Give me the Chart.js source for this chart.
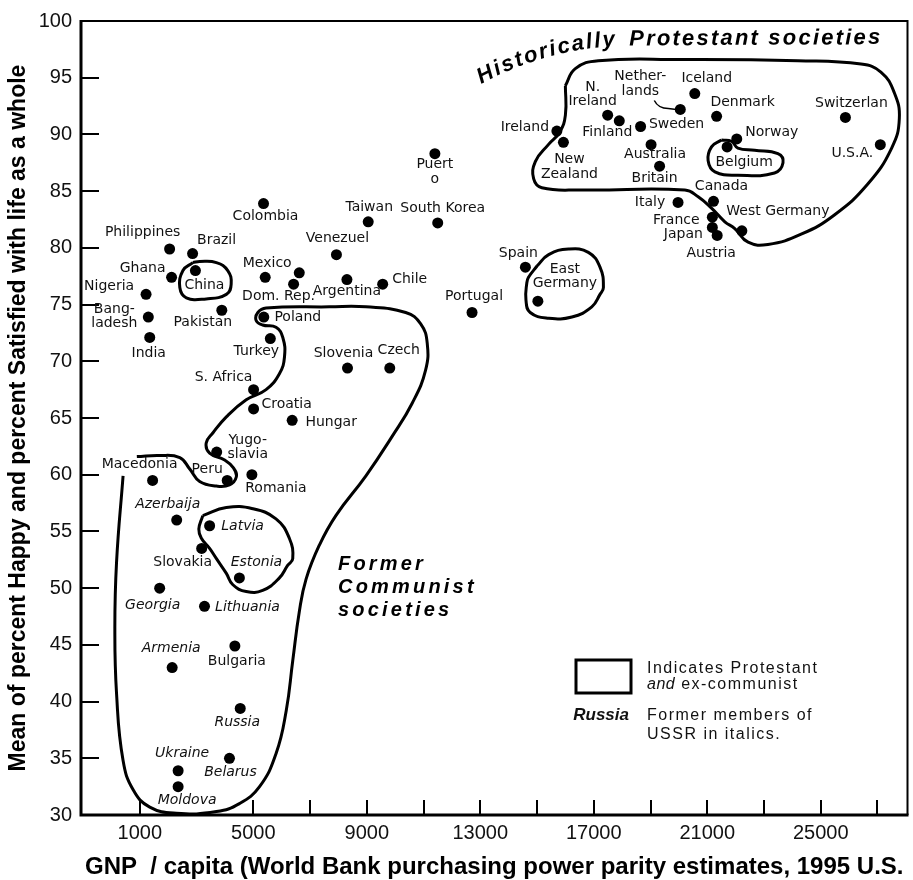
<!DOCTYPE html>
<html>
<head>
<meta charset="utf-8">
<script src="https://cdn.jsdelivr.net/npm/chart.js@4.4.1/dist/chart.umd.min.js"></script>
<style>
  html, body { margin: 0; padding: 0; background: #fff; }
</style>
</head>
<body>
<canvas id="happiness_canvas" width="913" height="880"></canvas>
<script>
// countries, GNP per capita (PPP, 1995 US$) and happy/satisfied mean
const countries = [
  'Philippines', 'Brazil', 'China', 'Ghana', 'Nigeria', 'Colombia', 'Puerto Rico', 'Taiwan',
  'South Korea', 'Venezuela', 'Mexico', 'Dom. Rep.', '', 'Argentina', 'Chile',
  'Iceland', 'Netherlands', 'Denmark', 'Switzerland', 'U.S.A.', 'N. Ireland', 'Finland',
  'Sweden', 'Ireland', 'New Zealand', 'Australia', 'Britain', 'Norway', 'Belgium',
  'Canada', 'Italy', 'France', 'Japan', 'Austria', 'West Germany', 'Spain', 'East Germany',
  'Portugal', 'Bangladesh', 'India', 'Pakistan', 'Poland', 'Turkey', 'Slovenia', 'Czech',
  'S. Africa', 'Croatia', 'Hungary', 'Yugoslavia', 'Peru', 'Romania', 'Macedonia',
  'Azerbaijan', 'Latvia', 'Slovakia', 'Estonia', 'Georgia', 'Lithuania', 'Bulgaria',
  'Armenia', 'Russia', 'Belarus', 'Ukraine', 'Moldova'
];
const gnp = [
  2050, 2860, 2960, 2120, 1220, 5360, 11400, 9050,
  11500, 7930, 5420, 6420, 6620, 8300, 9560,
  20560, 20050, 21330, 25870, 27100, 17490, 17900,
  18650, 15700, 15930, 19020, 19320, 22040, 21700,
  21220, 19970, 21180, 21180, 21350, 22220, 14590, 15030,
  12710, 1300, 1350, 3890, 5370, 5600, 8320, 9810,
  5010, 5010, 6370, 3710, 4080, 4950, 1450,
  2300, 3460, 3180, 4510, 1700, 3280, 4350,
  2140, 4540, 4160, 2350, 2350
];
const happy = [
  79.9, 79.5, 78.0, 77.4, 75.9, 83.9, 88.3, 82.3,
  82.2, 79.4, 77.4, 76.8, 77.8, 77.2, 76.8,
  93.6, 92.2, 91.6, 91.5, 89.1, 91.7, 91.2,
  90.7, 90.3, 89.3, 89.1, 87.2, 89.6, 88.9,
  84.1, 84.0, 82.7, 81.8, 81.1, 81.5, 78.3, 75.3,
  74.3, 73.9, 72.1, 74.5, 73.9, 72.0, 69.4, 69.4,
  67.5, 65.8, 64.8, 62.0, 59.5, 60.0, 59.5,
  56.0, 55.5, 53.5, 50.9, 50.0, 48.4, 44.9,
  43.0, 39.4, 35.0, 33.9, 32.5
];
// former USSR members, labelled in italics
const ussr = ['Azerbaijan', 'Latvia', 'Estonia', 'Georgia', 'Lithuania', 'Armenia',
  'Russia', 'Belarus', 'Ukraine', 'Moldova'];

const xTickValues = [1000, 5000, 7000, 9000, 11000, 13000, 15000, 17000, 19000, 21000, 23000, 25000, 27000];
const xTickLabels = [1000, 5000, 9000, 13000, 17000, 21000, 25000];
const yTickValues = [30, 35, 40, 45, 50, 55, 60, 65, 70, 75, 80, 85, 90, 95, 100];

// hand drawn group outlines, in data units [gnp, happy]
const protestantOutline = [[16000,94.3],[16000,91.7],[15800,90.2],[15400,89.1],[14940,87.6],[14880,86.1],[15170,85.3],[16580,85.1],[20210,85.1],[20680,84.5],[21150,83.5],[21620,82.3],[21970,81.7],[22440,80.5],[23140,80.3],[24310,81.2],[25480,82.9],[26650,85.6],[27500,88.8],[27770,91.4],[27590,93.7],[27120,95.5],[26420,96.2],[24190,96.5],[20090,96.6],[17160,96.5],[16350,95.8],[16000,94.3]];
const belgiumOutline = [[21500,89.5],[21150,88.9],[21030,87.7],[21270,86.7],[22080,86.4],[23370,86.6],[23670,87.5],[23490,88.3],[22670,88.6],[22080,88.8],[21850,89.4],[21500,89.5]];
const eastGermanyOutline = [[15000,78.4],[15410,79.4],[16110,79.9],[16810,79.6],[17220,78.3],[17340,76.5],[17220,75.9],[16930,74.8],[16230,73.9],[15410,73.8],[14760,74.3],[14610,75.4],[14640,76.9],[14700,77.4],[15000,78.4]];
const chinaOutline = [[2870,78.7],[3110,78.8],[3700,78.7],[4100,78.0],[4220,76.8],[4050,75.9],[3340,75.5],[2640,75.6],[2410,76.5],[2520,78.0],[2870,78.7]];
const balticOutline = [[3220,56.4],[4050,57.1],[4980,57.0],[5800,56.1],[6270,54.4],[6390,52.6],[6210,52.0],[5920,50.9],[5330,49.8],[4750,49.7],[4280,50.3],[4050,51.3],[3700,52.6],[3460,53.5],[3170,54.4],[3080,55.2],[3220,56.4]];
const communistOutline = [[895,61.6],[1700,61.7],[2410,61.5],[2760,60.5],[3110,59.4],[3700,59.0],[4160,59.1],[4400,59.8],[4300,60.6],[3990,61.3],[3460,61.9],[3340,62.8],[3580,63.7],[4050,65.1],[4750,66.6],[5450,67.5],[5920,68.9],[6100,70.4],[6040,72.1],[5800,73.0],[5330,73.2],[5100,73.6],[5160,74.3],[5450,74.7],[7680,74.8],[8970,74.8],[10370,74.3],[10900,73.3],[11130,71.6],[11070,69.2],[10600,66.3],[9900,63.4],[8970,59.9],[7910,56.4],[7330,53.8],[6860,50.8],[6620,47.9],[6390,43.6],[6160,39.2],[5800,35.4],[5220,32.5],[4510,31.0],[3700,30.3],[2290,30.15],[1350,30.7],[770,32.2],[410,34.8],[180,40.7],[120,46.5],[180,52.3],[410,59.9]];

// label placement (px offset of label centre from the dot) and shown text
const labelText = {
  'Puerto Rico': ['Puert', 'o'], 'Venezuela': ['Venezuel'], 'Netherlands': ['Nether-', 'lands'],
  'Switzerland': ['Switzerlan'], 'N. Ireland': ['N.', 'Ireland'], 'New Zealand': ['New', 'Zealand'],
  'East Germany': ['East', 'Germany'], 'Bangladesh': ['Bang-', 'ladesh'], 'Hungary': ['Hungar'],
  'Yugoslavia': ['Yugo-', 'slavia'], 'Azerbaijan': ['Azerbaija']
};
const labelOffset = {
  'Philippines': [-27, -17], 'Brazil': [24, -13], 'China': [9, 15], 'Ghana': [-29, -9],
  'Nigeria': [-37, -8], 'Colombia': [2, 13], 'Puerto Rico': [0, 11], 'Taiwan': [1, -14],
  'South Korea': [5, -15], 'Venezuela': [1, -16], 'Mexico': [2, -14], 'Dom. Rep.': [-15, 12],
  'Argentina': [0, 12], 'Chile': [27, -5], 'Iceland': [12, -15], 'Netherlands': [-40, -33],
  'Denmark': [26, -14], 'Switzerland': [6, -14], 'U.S.A.': [-28, 9], 'N. Ireland': [-15, -28],
  'Finland': [-12, 12], 'Sweden': [36, -2], 'Ireland': [-32, -4], 'New Zealand': [6, 17],
  'Australia': [4, 10], 'Britain': [-5, 12], 'Norway': [35, -7], 'Belgium': [17, 15],
  'Canada': [8, -15], 'Italy': [-28, 0], 'France': [-36, 3], 'Japan': [-29, 7],
  'Austria': [-6, 18], 'West Germany': [36, -19], 'Spain': [-7, -14], 'East Germany': [27, -32],
  'Portugal': [2, -16], 'Bangladesh': [-34, -8], 'India': [-1, 16], 'Pakistan': [-19, 12],
  'Poland': [34, 0], 'Turkey': [-14, 13], 'Slovenia': [-4, -15], 'Czech': [9, -18],
  'S. Africa': [-30, -12], 'Croatia': [33, -5], 'Hungary': [39, 2], 'Yugoslavia': [31, -12],
  'Peru': [-20, -11], 'Romania': [24, 14], 'Macedonia': [-13, -16], 'Azerbaijan': [-9, -16],
  'Latvia': [33, 1], 'Slovakia': [-19, 14], 'Estonia': [17, -16], 'Georgia': [-7, 17],
  'Lithuania': [43, 1], 'Bulgaria': [2, 15], 'Armenia': [-1, -19], 'Russia': [-3, 14],
  'Belarus': [1, 14], 'Ukraine': [4, -17], 'Moldova': [9, 14]
};

// draws text one char at a time, bending the baseline from angle a0 to a1
function bentText(ctx, text, x, y, a0, a1, spacing) {
  const chars = [...text];
  const w = chars.map(ch => ctx.measureText(ch).width + spacing);
  const total = w.reduce((a, b) => a + b, 0);
  let s = 0;
  chars.forEach((ch, i) => {
    const a = a0 + (a1 - a0) * (s + w[i] / 2) / total;
    ctx.save();
    ctx.translate(x, y);
    ctx.rotate(a);
    ctx.fillText(ch, 0, 0);
    ctx.restore();
    x += Math.cos(a) * w[i];
    y += Math.sin(a) * w[i];
    s += w[i];
  });
  return [x, y];
}

const overlay = {
  id: 'overlay',
  afterDraw(chart) {
    const {ctx, chartArea: area} = chart;
    const xs = chart.scales.x, ys = chart.scales.y;
    const L = area.left, T = area.top;
    ctx.save();
    ctx.strokeStyle = '#000';
    ctx.fillStyle = '#000';

    // frame
    ctx.lineWidth = 2;
    ctx.beginPath();
    ctx.moveTo(area.left, area.top); ctx.lineTo(area.right, area.top); ctx.lineTo(area.right, area.bottom);
    ctx.stroke();
    ctx.lineWidth = 3;
    ctx.beginPath();
    ctx.moveTo(area.left, area.top - 1); ctx.lineTo(area.left, area.bottom); ctx.lineTo(area.right + 1, area.bottom);
    ctx.stroke();

    // inward tick marks
    ctx.lineWidth = 2;
    ctx.beginPath();
    xTickValues.forEach(v => {
      const px = Math.round(xs.getPixelForValue(v));
      ctx.moveTo(px, area.bottom); ctx.lineTo(px, area.bottom - 15);
    });
    yTickValues.slice(1, -1).forEach(v => {
      const py = Math.round(ys.getPixelForValue(v));
      ctx.moveTo(area.left, py); ctx.lineTo(area.left + 18, py);
    });
    ctx.stroke();

    // country labels
    ctx.textAlign = 'center';
    ctx.textBaseline = 'middle';
    ctx.fillStyle = '#111';
    countries.forEach((name, i) => {
      const off = labelOffset[name];
      if (!off) return;
      const lines = labelText[name] || [name];
      const px = xs.getPixelForValue(gnp[i]) + off[0];
      const py = ys.getPixelForValue(happy[i]) + off[1];
      ctx.font = (ussr.includes(name) ? 'italic ' : '') + '14px "DejaVu Sans"';
      lines.forEach((t, k) => ctx.fillText(t, px, py + k * 14.5));
    });

    // little leader line for Netherlands
    const ni = countries.indexOf('Netherlands');
    const nx = xs.getPixelForValue(gnp[ni]), ny = ys.getPixelForValue(happy[ni]);
    ctx.lineWidth = 1.5;
    ctx.beginPath();
    ctx.moveTo(nx - 26, ny - 9);
    ctx.quadraticCurveTo(nx - 22, ny - 1, nx - 12, ny - 1);
    ctx.lineTo(nx - 4, ny);
    ctx.stroke();

    // group captions
    ctx.fillStyle = '#000';
    ctx.textAlign = 'left';
    ctx.textBaseline = 'alphabetic';
    ctx.font = 'italic bold 22px "Liberation Sans"';
    let [hx, hy] = bentText(ctx, 'Historically ', L + 400, T + 63, -0.5, -0.02, 2);
    bentText(ctx, 'Protestant societies', hx + 4, hy, -0.01, 0, 2.2);

    ctx.font = 'italic bold 20px "Liberation Sans"';
    bentText(ctx, 'Former', L + 257, T + 549, 0, 0, 3.2);
    bentText(ctx, 'Communist', L + 257, T + 572, 0, 0, 3.2);
    bentText(ctx, 'societies', L + 257, T + 595, 0, 0, 3.2);

    // key
    ctx.lineWidth = 3;
    ctx.strokeRect(L + 495, T + 639, 55, 33);
    ctx.fillStyle = '#111';
    ctx.font = '16px "Liberation Sans"';
    bentText(ctx, 'Indicates Protestant', L + 566, T + 652, 0, 0, 1.5);
    ctx.font = 'italic 16px "Liberation Sans"';
    let [ax] = bentText(ctx, 'and', L + 566, T + 668, 0, 0, 0.5);
    ctx.font = '16px "Liberation Sans"';
    bentText(ctx, ' ex-communist', ax, T + 668, 0, 0, 1.5);
    bentText(ctx, 'Former members of', L + 566, T + 699, 0, 0, 1.5);
    bentText(ctx, 'USSR in italics.', L + 566, T + 718, 0, 0, 1.5);
    ctx.font = 'italic bold 17px "Liberation Sans"';
    ctx.textAlign = 'right';
    ctx.fillText('Russia', L + 548, T + 699);
    ctx.restore();
  }
};

const outlines = [protestantOutline, belgiumOutline, eastGermanyOutline, chinaOutline, balticOutline, communistOutline];

const ctx = document.getElementById('happiness_canvas');

new Chart(ctx, {
  type: 'scatter',
  data: {
    datasets: [
      {
        label: 'Countries',
        data: gnp.map((g, i) => ({x: g, y: happy[i]})),
        pointRadius: 5.5,
        pointBackgroundColor: '#000',
        pointBorderColor: '#000',
        pointBorderWidth: 0,
        order: 0
      },
      ...outlines.map(o => ({
        data: o.map(([x, y]) => ({x, y})),
        showLine: true,
        tension: 0.45,
        borderColor: '#000',
        borderWidth: 3,
        pointRadius: 0,
        fill: false,
        order: 1
      }))
    ]
  },
  options: {
    responsive: false,
    animation: false,
    events: [],
    layout: { padding: {top: 15, right: 3, left: 0, bottom: 0} },
    elements: { line: { capBezierPoints: false } },
    plugins: {
      legend: { display: false },
      tooltip: { enabled: false }
    },
    scales: {
      x: {
        type: 'linear',
        min: -1073,
        max: 28058,
        afterFit(scale) { scale.height = 65; },
        afterBuildTicks(scale) { scale.ticks = xTickValues.map(v => ({value: v})); },
        grid: { display: false, drawTicks: false },
        border: { display: false },
        ticks: {
          autoSkip: false,
          maxRotation: 0,
          padding: 6,
          color: '#111',
          font: { family: 'Liberation Sans', size: 20 },
          callback: v => xTickLabels.includes(v) ? String(v) : ''
        },
        title: {
          display: true,
          text: 'GNP  / capita (World Bank purchasing power parity estimates, 1995 U.S.',
          color: '#000',
          font: { family: 'Liberation Sans', size: 24, weight: 'bold', lineHeight: 1.05 },
          padding: {top: 0, bottom: 0}
        }
      },
      y: {
        type: 'linear',
        min: 30,
        max: 100,
        afterFit(scale) { scale.width = 81; },
        afterBuildTicks(scale) { scale.ticks = yTickValues.map(v => ({value: v})); },
        grid: { display: false, drawTicks: false },
        border: { display: false },
        ticks: {
          padding: 9,
          color: '#111',
          font: { family: 'Liberation Sans', size: 20 }
        },
        title: {
          display: true,
          text: 'Mean of percent Happy and percent Satisfied with life as a whole',
          color: '#000',
          font: { family: 'Liberation Sans', size: 23, weight: 'bold', lineHeight: 1.1 },
          padding: {top: 6, bottom: 0}
        }
      }
    }
  },
  plugins: [overlay]
});
</script>
</body>
</html>
